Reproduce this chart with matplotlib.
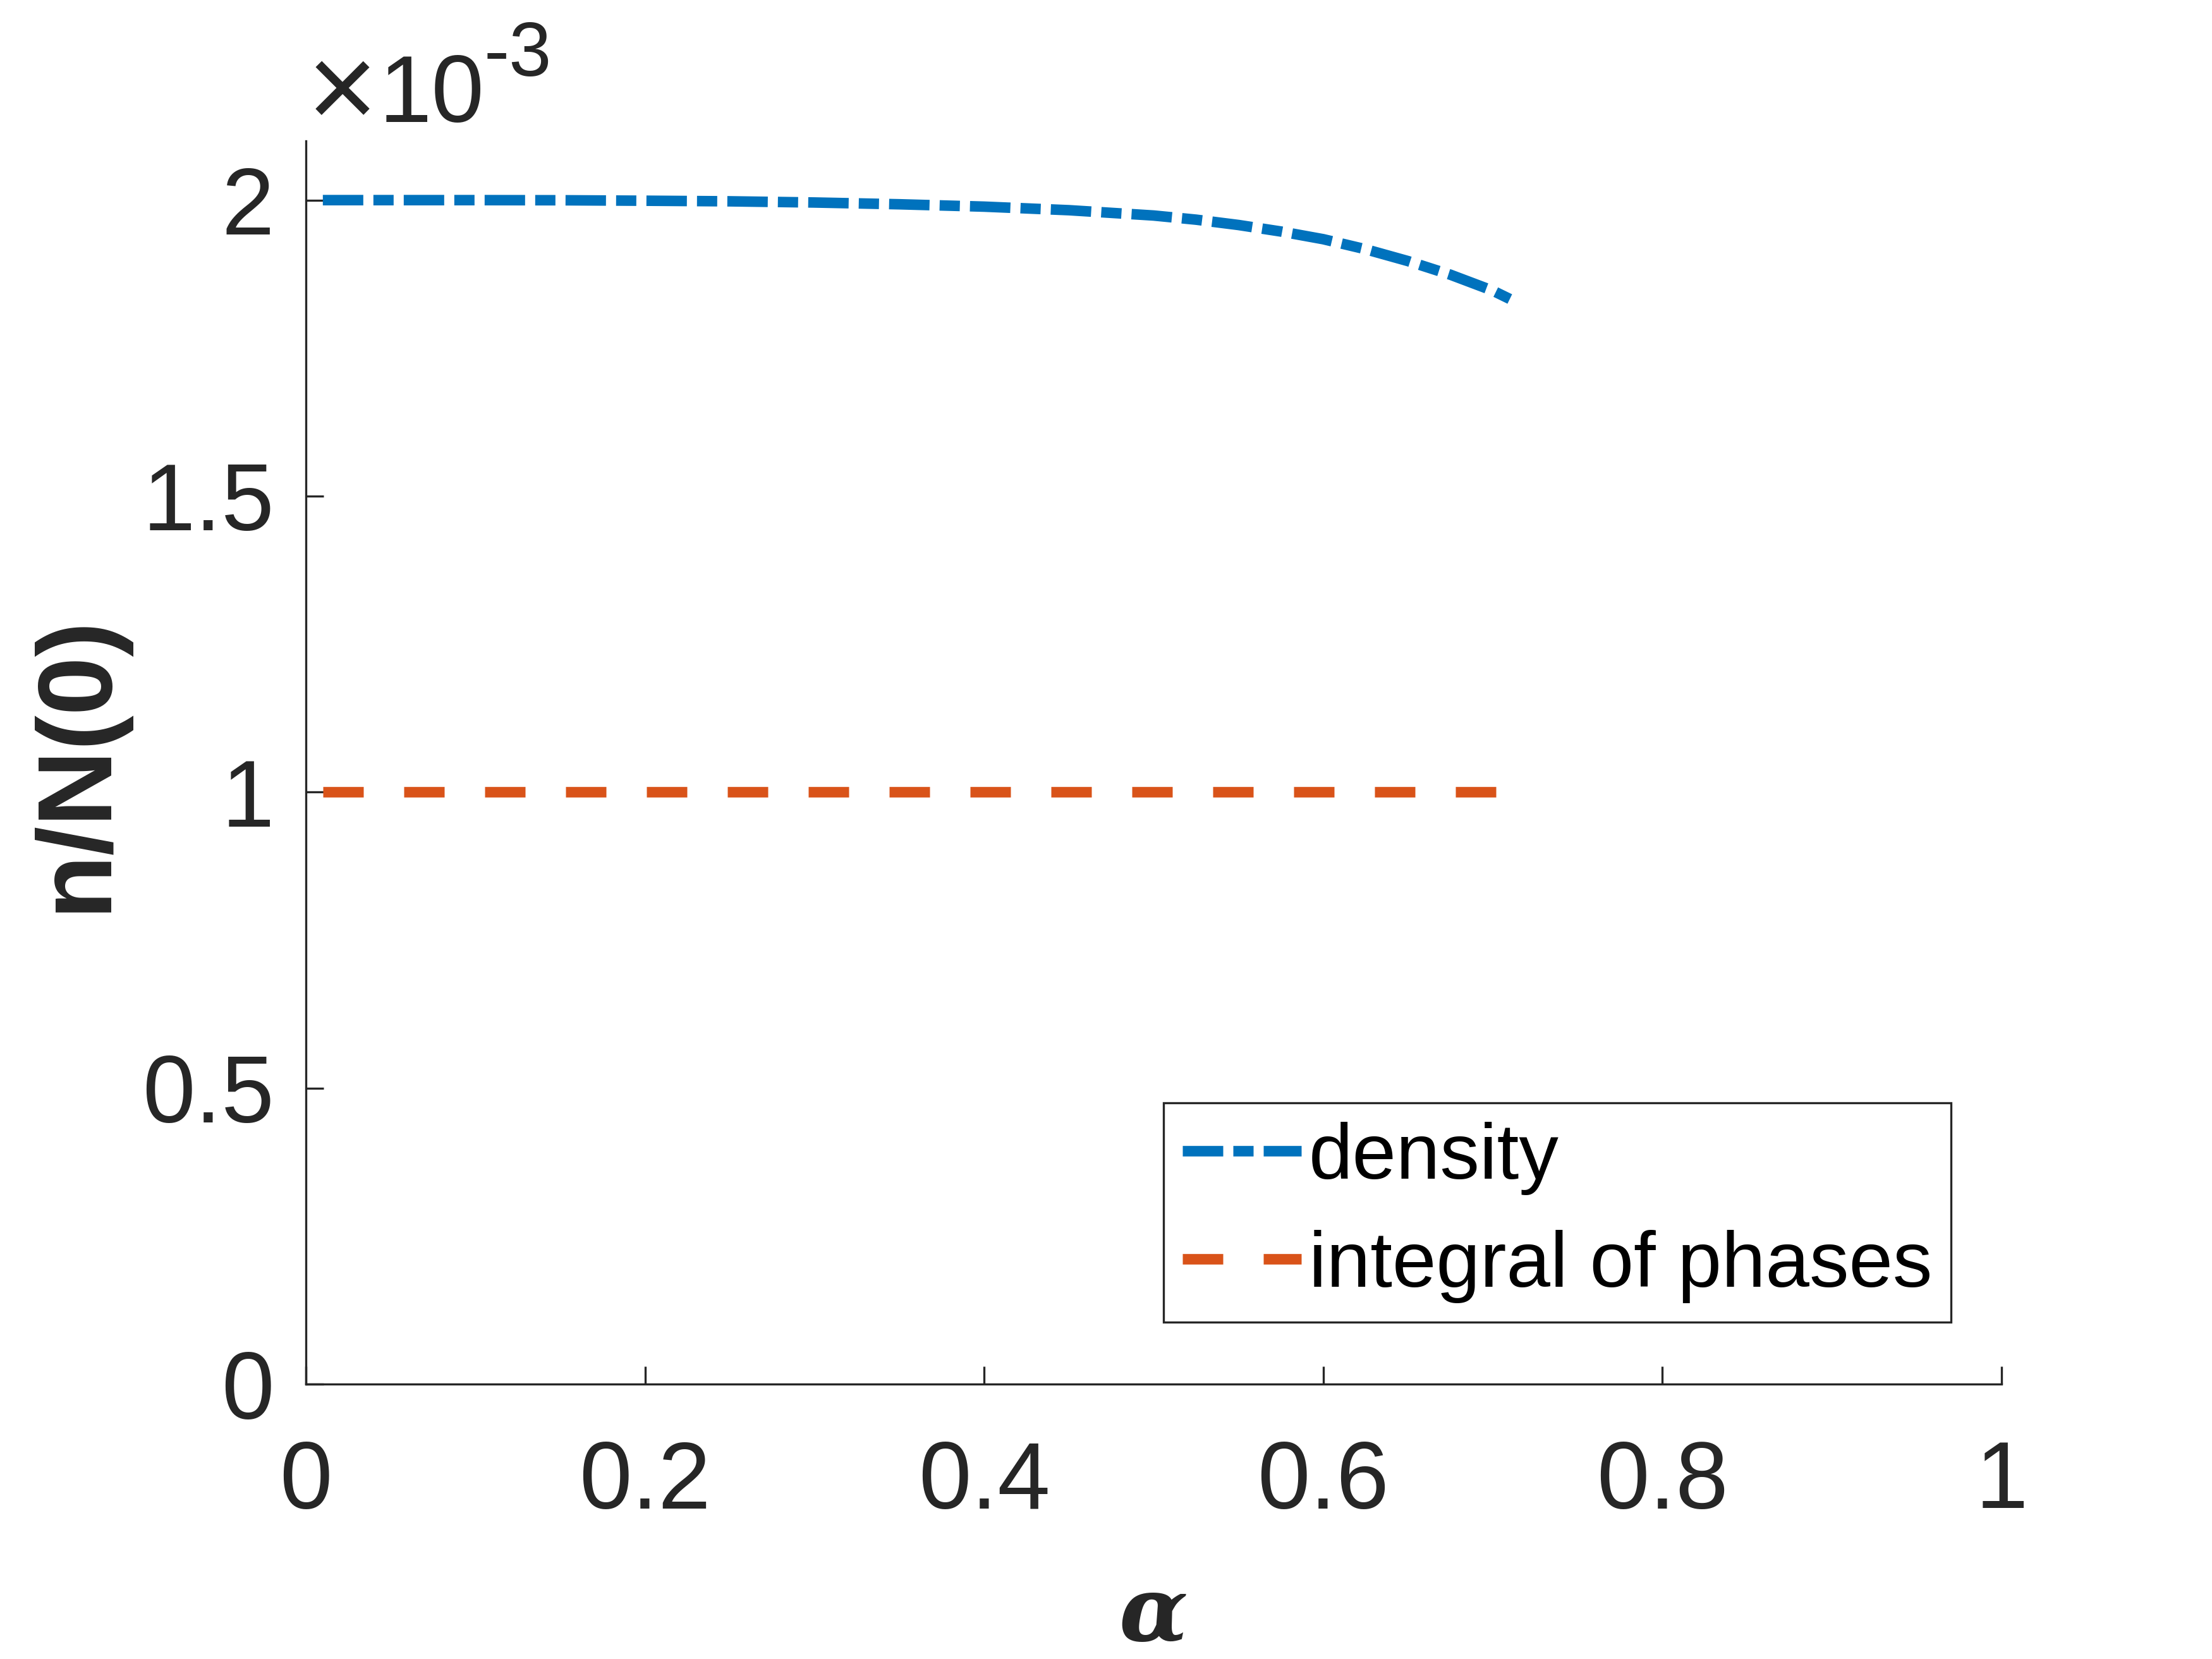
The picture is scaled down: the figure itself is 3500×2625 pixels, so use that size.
import matplotlib
matplotlib.use('Agg')
import matplotlib.pyplot as plt
from matplotlib.ticker import FuncFormatter

# values (density in units of 1e-3)
alpha = [0.01, 0.05, 0.10, 0.15, 0.20, 0.25, 0.30, 0.35, 0.40, 0.45, 0.50,
         0.525, 0.55, 0.575, 0.60, 0.625, 0.65, 0.675, 0.70, 0.71]
density = [2.000, 2.000, 2.000, 1.9998, 1.999, 1.998, 1.996, 1.993, 1.989, 1.983, 1.974,
           1.967, 1.958, 1.947, 1.934, 1.917, 1.897, 1.874, 1.847, 1.833]
integral = [1.000] * len(alpha)

density = [d * 1e-3 for d in density]
integral = [v * 1e-3 for v in integral]

xticks = [0, 0.2, 0.4, 0.6, 0.8, 1]
yticks = [0, 0.5e-3, 1e-3, 1.5e-3, 2e-3]

W, H = 3500, 2625
txt = '#262626'
plt.rcParams['font.family'] = ['Liberation Sans', 'DejaVu Sans']

fig = plt.figure(figsize=(W / 300, H / 300), dpi=300)
ax = fig.add_axes([484 / W, 1 - 2190 / H, (3167 - 484) / W, (2190 - 223) / H])

ax.plot(alpha, density, color='#0072BD', lw=4, dash_capstyle='butt',
        linestyle=(0, (3.84, 0.96, 1.92, 0.96)), label='density')
ax.plot(alpha, integral, color='#D95319', lw=4, dash_capstyle='butt',
        linestyle=(0, (3.84, 3.84)), label='integral of phases')

ax.set_xlim(0, 1)
ax.set_ylim(0, 2.1e-3)
ax.set_xticks(xticks)
ax.set_yticks(yticks)
ax.xaxis.set_major_formatter(FuncFormatter(lambda v, p: '%g' % v))
ax.yaxis.set_major_formatter(FuncFormatter(lambda v, p: '%g' % round(v * 1e3, 3)))

for s in ['top', 'right']:
    ax.spines[s].set_visible(False)
for s in ['left', 'bottom']:
    ax.spines[s].set_color(txt)
    ax.spines[s].set_linewidth(0.8)

ax.tick_params(direction='in', length=6.7, width=0.8, color=txt,
               labelcolor=txt, labelsize=36)
ax.tick_params(axis='x', pad=21)
ax.tick_params(axis='y', pad=12)

# offset text like matlab
fig.text(542 / W, 1 - 154 / H, '\u00d7', fontsize=46, color=txt,
         ha='center', va='center')
fig.text(600 / W, 1 - 193 / H, '10', fontsize=36, color=txt, va='baseline')
fig.text(766 / W, 1 - 120 / H, '-3', fontsize=29, color=txt, va='baseline')

fig.text(123 / W, 1 - 1207 / H, 'n/N(0)', fontsize=40, fontweight='bold',
         color=txt, rotation=90, ha='center', va='center')
fig.text(1825 / W, 1 - 2557 / H, '\u03b1', fontsize=34, fontweight='bold',
         fontstyle='italic', family='DejaVu Serif', color=txt,
         ha='center', va='center')

leg = ax.legend(loc='lower left', bbox_to_anchor=(1841 / W, 1 - 2092 / H),
                bbox_transform=fig.transFigure, fontsize=30, frameon=True,
                fancybox=False, shadow=False, framealpha=1, borderaxespad=0,
                borderpad=0.24, labelspacing=0.44, handlelength=1.5,
                handletextpad=0.1)
leg.get_frame().set_edgecolor(txt)
leg.get_frame().set_linewidth(0.8)

fig.savefig('out.png', dpi=300)
